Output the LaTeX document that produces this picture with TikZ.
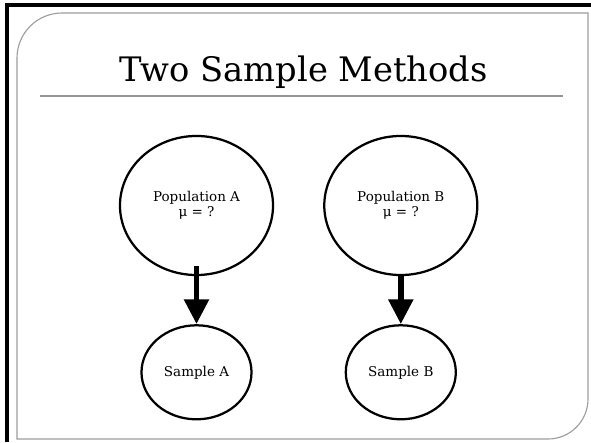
\documentclass[tikz,border=0pt]{standalone}
\usepackage{fontspec}
\setmainfont{DejaVu Serif}
\usepackage{tikz}
\usetikzlibrary{arrows.meta,positioning,shapes.geometric}
\tikzset{
  popnode/.style={
    draw,
    ellipse,
    line width=1.6pt,
    align=center,
    inner sep=0pt,
    minimum width=3.825cm,
    minimum height=3.475cm,
    font=\fontsize{9.6}{10.8}\selectfont
  },
  samplenode/.style={popnode, minimum width=2.75cm, minimum height=2.35cm},
  slideframe/.style={draw=black!38, line width=0.8pt},
  titlerule/.style={draw=black!42, line width=1.4pt},
  bigarrow/.style={-{Triangle[length=17.7pt,width=17pt]}, line width=4.2pt}
}

\begin{document}
\begin{tikzpicture}[x=0.025cm, y=0.025cm, node distance=1.2cm and 1.225cm]
\useasboundingbox (0,0) rectangle (591,442);
\fill[white] (0,0) rectangle (591,442);

% outer border and slide frame
\draw[line width=2.2pt] (7,0) -- (7,437) -- (591,437);
\draw[slideframe] (17,3) -- (17,384) arc[start angle=180, end angle=90, radius=45]
  -- (588,429) -- (588,43) arc[start angle=0, end angle=-90, radius=40] -- cycle;

% title and rule
\node[anchor=base, font=\fontsize{24}{28}\selectfont, inner sep=0pt] (title) at (303.5,360) {Two Sample Methods};
\draw[titlerule] (40,346) -- (563,346);

% populations and samples
\node[popnode] (popA) at (196.5,236.5) {Population A\\μ = ?};
\node[popnode, right=of popA] (popB) {Population B\\μ = ?};
\node[samplenode, below=of popA] (sampA) {Sample A};
\node[samplenode, below=of popB] (sampB) {Sample B};

\draw[bigarrow] ([yshift=0.25cm]popA.south) -- (sampA.north);
\draw[bigarrow] (popB.south) -- (sampB.north);
\end{tikzpicture}
\end{document}
